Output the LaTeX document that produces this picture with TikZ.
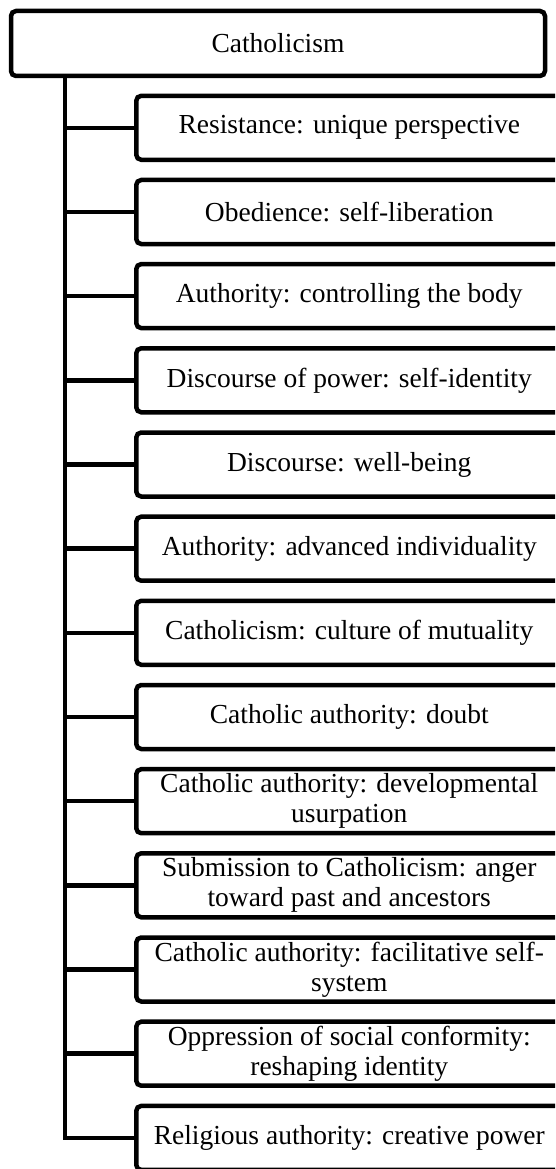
\documentclass[tikz,border=0pt]{standalone}
\usepackage{fontspec}
\setmainfont{Liberation Serif}
\begin{document}
\begin{tikzpicture}[x=1pt,y=-1pt,
  line width=4.5pt,
  rootbox/.style={draw=black, rounded corners=5pt, minimum width=534pt, minimum height=65pt,
    inner sep=0pt, align=center, font=\fontsize{27.5}{30}\selectfont},
  leafbox/.style={draw=black, rounded corners=5pt, minimum width=426pt, minimum height=64pt,
    inner sep=0pt, align=center, anchor=west, font=\fontsize{27.5}{30}\selectfont},
  branch/.style={draw=black, line width=4.5pt}]
\useasboundingbox (0,0) rectangle (555,1169);
\clip (0,0) rectangle (555,1169);

\node[rootbox] (root) at (278,43.5) {Catholicism};
\coordinate (trunk) at (65,0);

\node[leafbox] (c1)  at (134,127.8)  {Resistance: unique perspective};
\node[leafbox] (c2)  at (134,212.0)  {Obedience: self-liberation};
\node[leafbox] (c3)  at (134,296.1)  {Authority: controlling the body};
\node[leafbox] (c4)  at (134,380.3)  {Discourse of power: self-identity};
\node[leafbox] (c5)  at (134,464.5)  {Discourse: well-being};
\node[leafbox] (c6)  at (134,548.7)  {Authority: advanced individuality};
\node[leafbox] (c7)  at (134,632.8)  {Catholicism: culture of mutuality};
\node[leafbox] (c8)  at (134,717.0)  {Catholic authority: doubt};
\node[leafbox] (c9)  at (134,801.2)  {Catholic authority: developmental\\usurpation};
\node[leafbox] (c10) at (134,885.3)  {Submission to Catholicism: anger\\toward past and ancestors};
\node[leafbox] (c11) at (134,969.5)  {Catholic authority: facilitative self-\\system};
\node[leafbox] (c12) at (134,1053.7) {Oppression of social conformity:\\reshaping identity};
\node[leafbox] (c13) at (134,1137.9) {Religious authority: creative power};

% trunk from the root down to the last branch
\draw[branch, line join=miter] (root.south -| trunk) |- (c13.west);
% branches to every leaf
\foreach \n in {c1,c2,c3,c4,c5,c6,c7,c8,c9,c10,c11,c12}
  \draw[branch] (trunk |- \n.west) -- (\n.west);
\end{tikzpicture}
\end{document}
